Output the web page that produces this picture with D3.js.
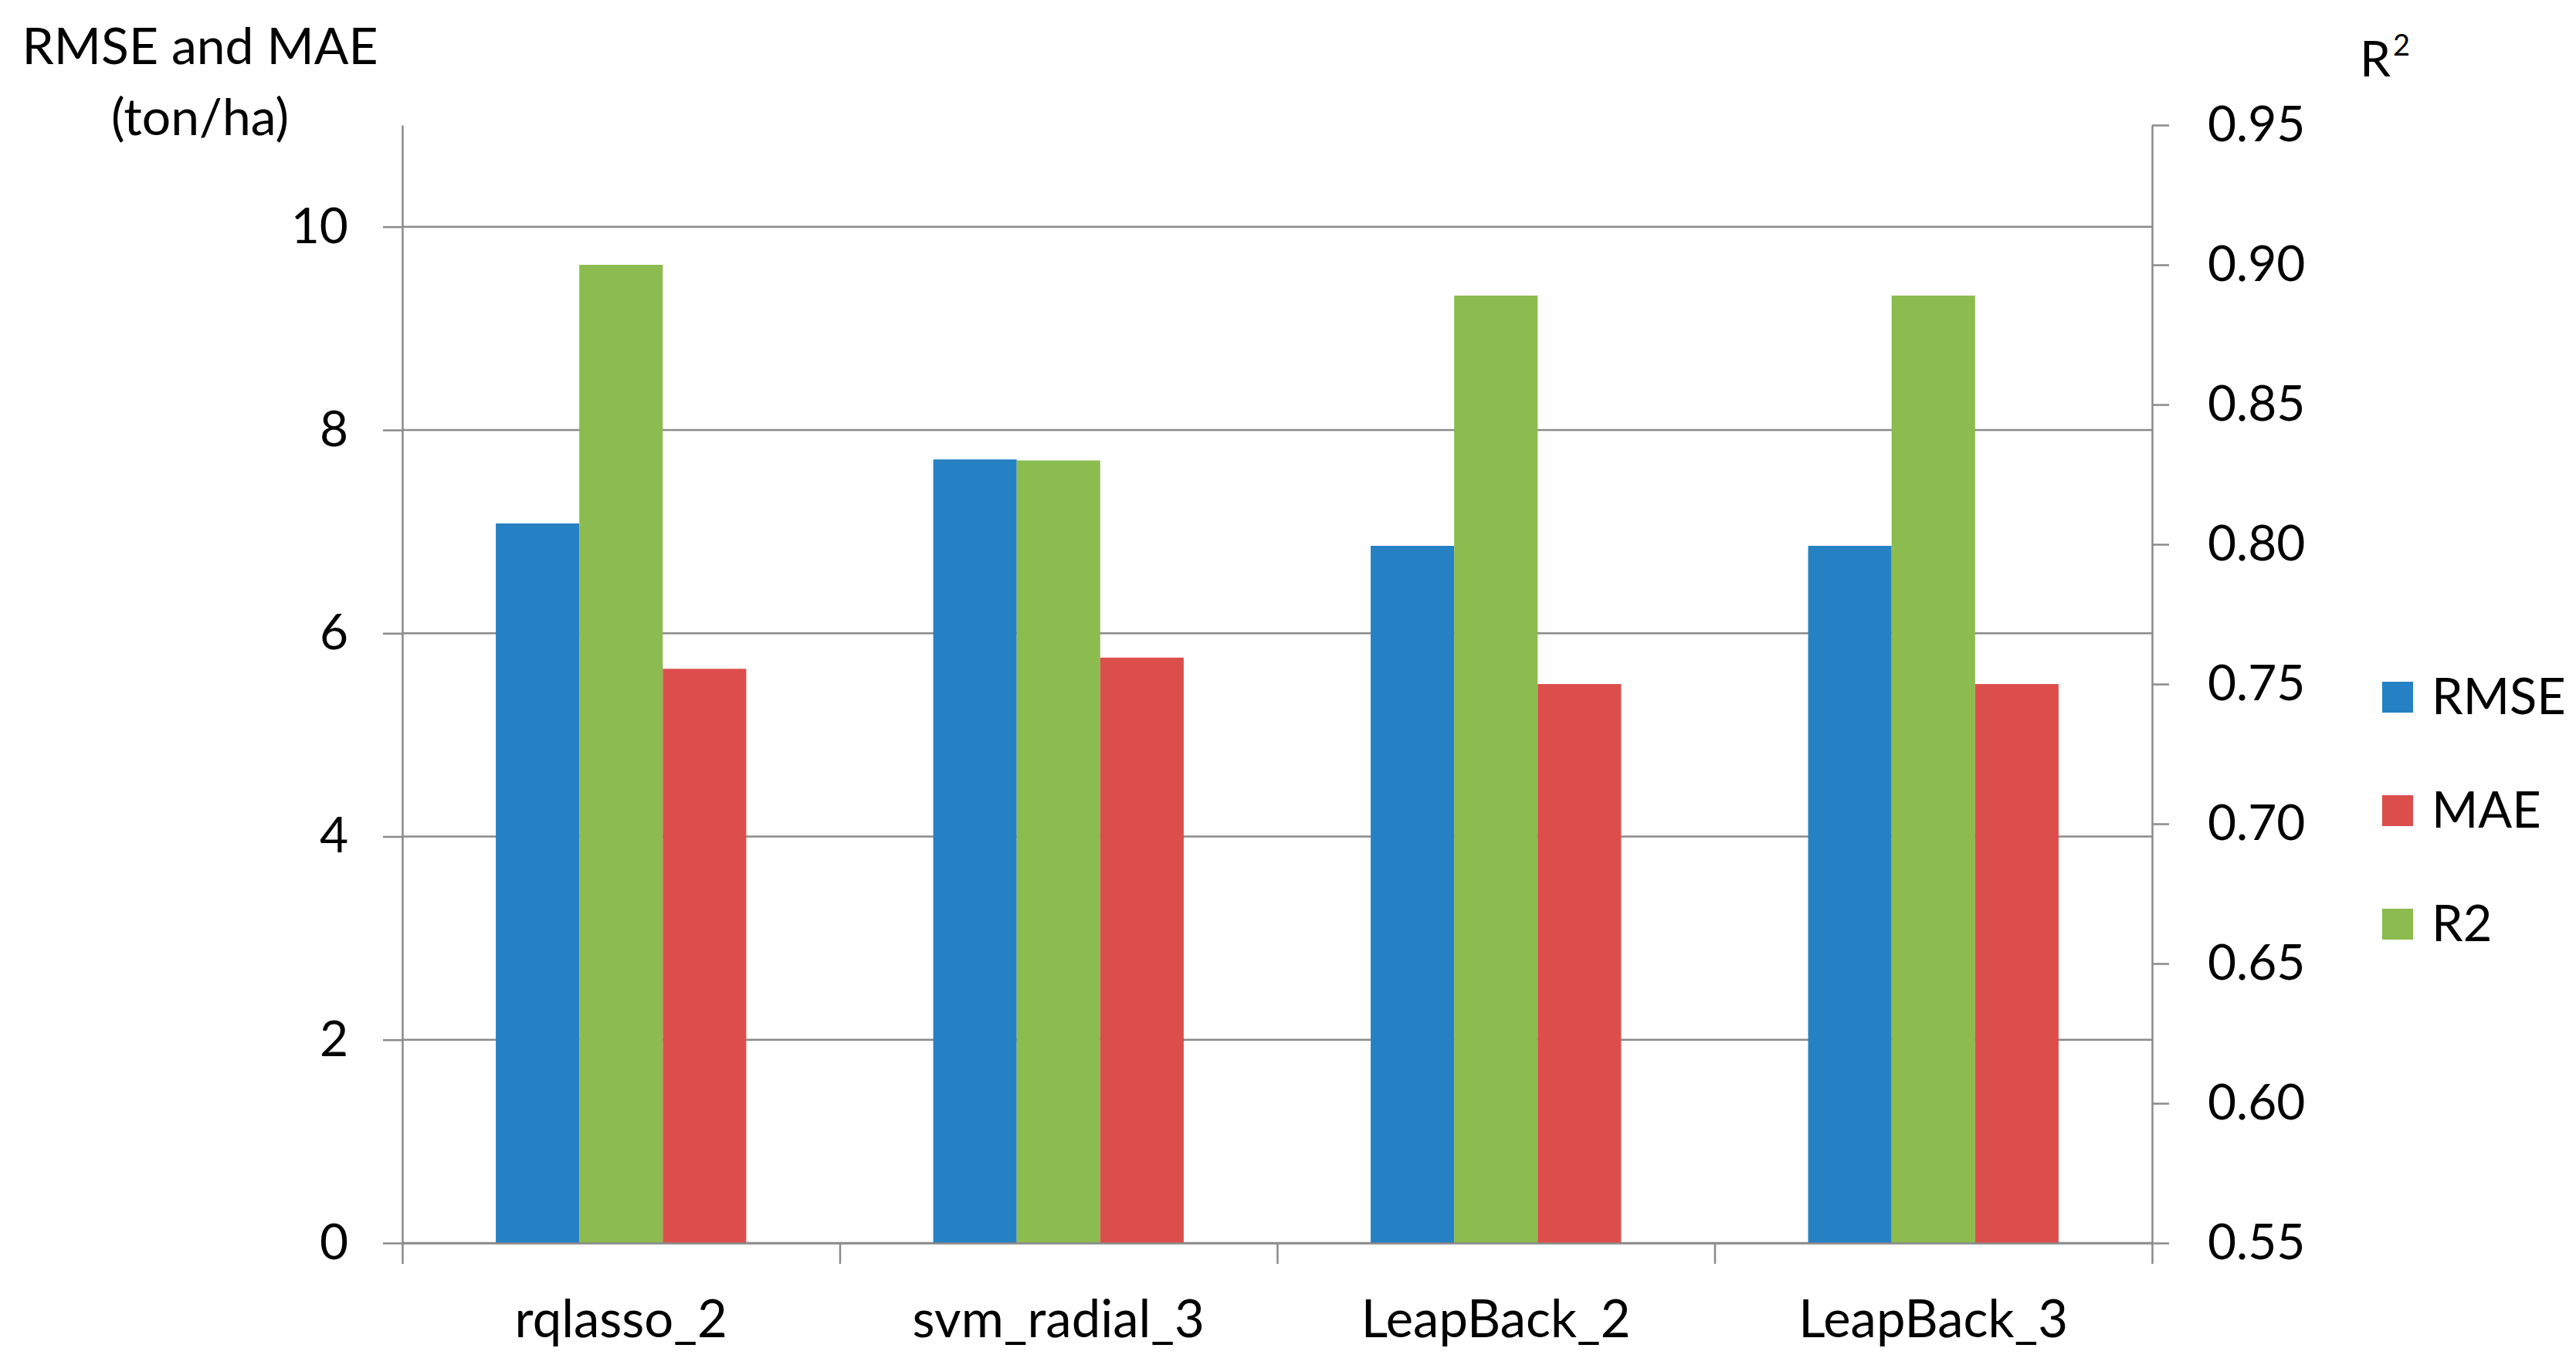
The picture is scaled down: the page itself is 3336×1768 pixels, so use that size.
<!DOCTYPE html>
<html>
<head>
<meta charset="utf-8">
<script src="https://cdnjs.cloudflare.com/ajax/libs/d3/7.8.5/d3.min.js"></script>
<style>
    body { margin: 0; background: #ffffff; }
    text { font-family: Lato, "Open Sans", sans-serif; fill: #000000; }
</style>
</head>
<body>
<div id="chart"></div>
<script>
// data
var categories = ["rqlasso_2", "svm_radial_3", "LeapBack_2", "LeapBack_3"];
var rmse = [7.08, 7.71, 6.86, 6.86];
var mae = [5.65, 5.76, 5.50, 5.50];
var r2 = [0.900, 0.830, 0.889, 0.889];
var leftTicks = [0, 2, 4, 6, 8, 10];
var rightTicks = [0.55, 0.60, 0.65, 0.70, 0.75, 0.80, 0.85, 0.90, 0.95];
var legendNames = ["RMSE", "MAE", "R2"];
var barOrder = ["RMSE", "R2", "MAE"];

var colors = { "RMSE": "#2581c4", "MAE": "#dc4e4c", "R2": "#8cbb4f" };
var gray = "#8a8a8a";

function draw_chart() {
    var width = 3336, height = 1768;
    var plotLeft = 521, plotRight = 2787, plotTop = 162, plotBottom = 1610;

    var svg = d3.select("#chart")
        .append("svg")
        .attr("width", width)
        .attr("height", height);

    // scales
    var x = d3.scaleBand()
        .domain(categories)
        .range([plotLeft, plotRight])
        .padding(0);

    var xInner = d3.scaleBand()
        .domain(barOrder)
        .range([0, x.bandwidth()])
        .paddingInner(0)
        .paddingOuter(1.12);

    var yLeft = d3.scaleLinear()
        .domain([0, 11])
        .range([plotBottom, plotTop]);

    var yRight = d3.scaleLinear()
        .domain([0.55, 0.95])
        .range([plotBottom, plotTop]);

    // gridlines
    svg.append("g")
        .selectAll("line")
        .data(leftTicks)
        .enter()
        .append("line")
        .attr("x1", plotLeft)
        .attr("x2", plotRight)
        .attr("y1", function (d) { return yLeft(d); })
        .attr("y2", function (d) { return yLeft(d); })
        .attr("stroke", gray)
        .attr("stroke-width", 2.5);

    // bars (R2 is on the right axis)
    var rows = categories.map(function (c, i) {
        return { cat: c, values: [
            { key: "RMSE", y: yLeft(rmse[i]) },
            { key: "R2", y: yRight(r2[i]) },
            { key: "MAE", y: yLeft(mae[i]) }
        ] };
    });

    svg.append("g")
        .selectAll("g")
        .data(rows)
        .enter()
        .append("g")
        .attr("transform", function (d) { return "translate(" + x(d.cat) + ",0)"; })
        .selectAll("rect")
        .data(function (d) { return d.values; })
        .enter()
        .append("rect")
        .attr("x", function (d) { return xInner(d.key); })
        .attr("width", xInner.bandwidth())
        .attr("y", function (d) { return d.y; })
        .attr("height", function (d) { return plotBottom - d.y; })
        .attr("fill", function (d) { return colors[d.key]; });

    // left axis
    var gLeft = svg.append("g")
        .attr("transform", "translate(" + plotLeft + ",0)")
        .call(d3.axisLeft(yLeft).tickValues(leftTicks).tickSize(25).tickSizeOuter(0).tickPadding(45));

    // right axis
    var gRight = svg.append("g")
        .attr("transform", "translate(" + plotRight + ",0)")
        .call(d3.axisRight(yRight).tickValues(rightTicks).tickSize(22).tickSizeOuter(0)
            .tickPadding(50).tickFormat(d3.format(".2f")));

    // bottom axis: boundary ticks, then the labels
    var xEdges = d3.scaleLinear().domain([0, categories.length]).range([plotLeft, plotRight]);
    var gEdges = svg.append("g")
        .attr("transform", "translate(0," + plotBottom + ")")
        .call(d3.axisBottom(xEdges).ticks(categories.length).tickSize(27).tickSizeOuter(0).tickFormat(""));

    var gBottom = svg.append("g")
        .attr("transform", "translate(0," + plotBottom + ")")
        .call(d3.axisBottom(x).tickSize(0).tickPadding(74));
    gBottom.select(".domain").remove();

    [gLeft, gRight, gEdges, gBottom].forEach(function (g) {
        g.selectAll(".domain").attr("stroke", gray).attr("stroke-width", 2.5);
        g.selectAll(".tick line").attr("stroke", gray).attr("stroke-width", 2.5);
        g.selectAll("text")
            .attr("font-family", "Lato, 'Open Sans', sans-serif")
            .attr("font-size", 64)
            .attr("fill", "#000");
    });
    gBottom.selectAll("text").attr("font-size", 67);

    // axis titles
    svg.append("text")
        .attr("x", 259)
        .attr("y", 83)
        .attr("text-anchor", "middle")
        .attr("font-size", 66)
        .text("RMSE and MAE");
    svg.append("text")
        .attr("x", 259)
        .attr("y", 175)
        .attr("text-anchor", "middle")
        .attr("font-size", 66)
        .text("(ton/ha)");
    var r2Title = svg.append("text")
        .attr("x", 3056)
        .attr("y", 99)
        .attr("font-size", 64)
        .text("R");
    r2Title.append("tspan")
        .attr("dy", -27)
        .attr("dx", 3)
        .attr("font-size", 38)
        .text("2");

    // legend
    var legend = svg.append("g")
        .selectAll("g")
        .data(legendNames)
        .enter()
        .append("g")
        .attr("transform", function (d, i) { return "translate(3085," + (903 + i * 147) + ")"; });
    legend.append("rect")
        .attr("x", 0)
        .attr("y", -20)
        .attr("width", 40)
        .attr("height", 40)
        .attr("fill", function (d) { return colors[d]; });
    legend.append("text")
        .attr("x", 64)
        .attr("y", 22)
        .attr("font-size", 65)
        .text(function (d) { return d; });
}

draw_chart();
</script>
</body>
</html>
